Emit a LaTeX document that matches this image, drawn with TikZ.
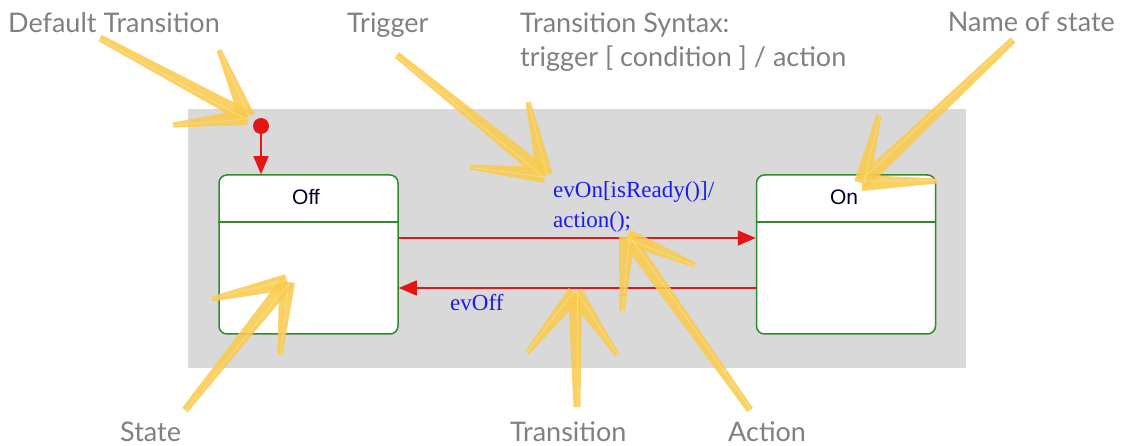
\documentclass[tikz,border=0pt]{standalone}
\usepackage{fontspec}
\setmainfont{Liberation Sans}
\newfontfamily\annfont{Lato}
\newfontfamily\serfont{Liberation Serif}
\usetikzlibrary{calc,arrows.meta}
\definecolor{bgray}{HTML}{D9D9D9}
\definecolor{stgreen}{HTML}{2E8B2E}
\definecolor{trred}{HTML}{E31515}
\definecolor{lblblue}{HTML}{1A1AF5}
\definecolor{anngray}{HTML}{808080}
\definecolor{hl}{HTML}{FACB4E}
\newcommand\taper[4]{\fill[hlfill] ($(#1)!#3!90:(#2)$) -- ($(#2)!#4!-90:(#1)$) -- ($(#2)!#4!90:(#1)$) -- ($(#1)!#3!-90:(#2)$) -- cycle;}
\newcommand\hlarrow[1]{%
  \taper{#1-tip}{#1-tail}{7pt}{3.5pt}%
  \taper{#1-tip}{#1-b1}{8pt}{2.5pt}%
  \taper{#1-tip}{#1-b2}{8pt}{2.5pt}%
  \draw[hlstreak] ($(#1-tip)!2.5pt!90:(#1-tail)$) -- ($(#1-tail)!1pt!-90:(#1-tip)$);%
  \draw[hlstreak] ($(#1-tip)!2pt!-90:(#1-b1)$) -- ($(#1-b1)!0.5pt!90:(#1-tip)$);%
  \draw[hlstreak] ($(#1-tip)!2pt!90:(#1-b2)$) -- ($(#1-b2)!0.5pt!-90:(#1-tip)$);%
}
\begin{document}
\begin{tikzpicture}[x=1pt,y=-1pt,
  statebox/.style={draw=stgreen, line width=1.5pt, fill=white, rounded corners=8pt, minimum width=179pt, minimum height=159pt, inner sep=0pt},
  statename/.style={font=\fontsize{21}{24}\selectfont, text=black!85!blue, inner sep=0pt},
  ann/.style={font=\annfont\fontsize{27}{31}\selectfont, text=anngray, inner sep=0pt},
  lbl/.style={font=\serfont\fontsize{23}{26}\selectfont, text=lblblue, inner sep=0pt, anchor=base west},
  trans/.style={draw=trred, line width=1.4pt, -{Triangle[length=18pt,width=15pt]}},
  hlfill/.style={fill=hl, opacity=0.88},
  hlstreak/.style={draw=white, line width=0.7pt, opacity=0.3}
]
\useasboundingbox (0,0) rectangle (1122,446);
\fill[bgray] (188,109) rectangle (966,368);

% states
\node[statebox] (off) at (308.5,254.5) {};
\node[statebox] (on) at (846,254.5) {};
\coordinate (hy) at (0,222);
\draw[stgreen, line width=1.5pt] (off.west |- hy) -- (off.east |- hy);
\draw[stgreen, line width=1.5pt] (on.west |- hy) -- (on.east |- hy);
\node[statename] (offname) at (306,197) {Off};
\node[statename] (onname) at (844,197) {On};

% initial transition
\node[circle, fill=trred, minimum size=16pt, inner sep=0pt] (init) at (261,126) {};
\draw[trans] (init) -- (init |- off.north);

% transitions
\coordinate (ty1) at (0,238);
\coordinate (ty2) at (0,288);
\draw[trans] (off.east |- ty1) -- (on.west |- ty1);
\draw[trans] (on.west |- ty2) -- (off.east |- ty2);
\node[lbl] (evon) at (553,198) {evOn[isReady()]/};
\node[lbl] (act) at (553,228) {action();};
\node[lbl] (evoff) at (450,311) {evOff};

% annotation texts
\node[ann, anchor=base west] (dt) at (8,33) {Default Transition};
\node[ann, anchor=base west] (trig) at (347,33) {Trigger};
\node[ann, anchor=base west] (syn1) at (520,33) {Transition Syntax:};
\node[ann, anchor=base west] (syn2) at (520,67) {trigger [ condition ] / action};
\node[ann, anchor=base east] (nos) at (1115,32) {Name of state};
\node[ann, anchor=base west] (st) at (120,441) {State};
\node[ann, anchor=base west] (tr) at (510,441) {Transition};
\node[ann, anchor=base west] (ac) at (728,441) {Action};

% highlighter arrows
\coordinate (dt-tail) at (100,38); \coordinate (dt-tip) at (247,117);
\coordinate (dt-b1) at (219,50); \coordinate (dt-b2) at (173,125);
\coordinate (trig-tail) at (397,55); \coordinate (trig-tip) at (545,175);
\coordinate (trig-b1) at (528,102); \coordinate (trig-b2) at (470,167);
\coordinate (nos-tail) at (1013,40); \coordinate (nos-tip) at (862,183);
\coordinate (nos-b1) at (879,115); \coordinate (nos-b2) at (937,181);
\coordinate (st-tail) at (185,410); \coordinate (st-tip) at (287,282);
\coordinate (st-b1) at (212,299); \coordinate (st-b2) at (280,355);
\coordinate (tr-tail) at (577,407); \coordinate (tr-tip) at (575,293);
\coordinate (tr-b1) at (527,353); \coordinate (tr-b2) at (617,355);
\coordinate (ac-tail) at (750,410); \coordinate (ac-tip) at (627,237);
\coordinate (ac-b1) at (695,265); \coordinate (ac-b2) at (622,311);
\hlarrow{dt}
\hlarrow{trig}
\hlarrow{nos}
\hlarrow{st}
\hlarrow{tr}
\hlarrow{ac}
\end{tikzpicture}
\end{document}
